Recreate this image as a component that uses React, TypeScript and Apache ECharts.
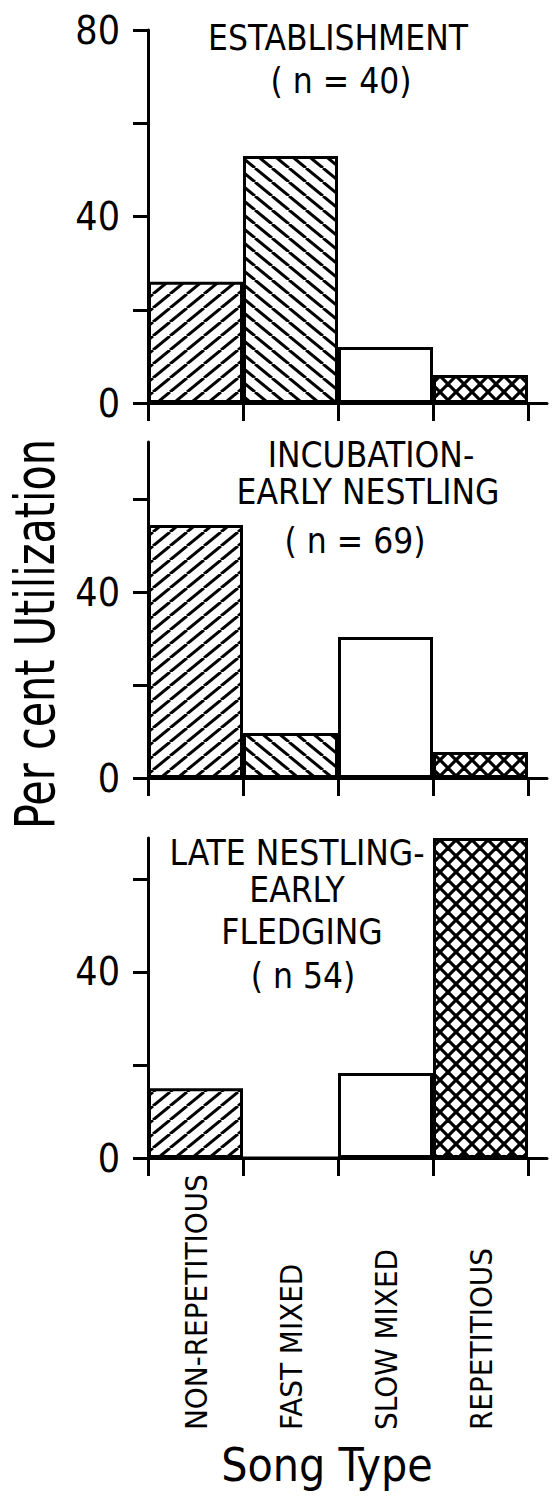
import React, { useEffect, useRef } from "react";
import * as echarts from "echarts";

// ---- data ----
const categories = ["NON-REPETITIOUS", "FAST MIXED", "SLOW MIXED", "REPETITIOUS"];
const establishment = [26, 53, 12, 6];
const incubation = [54.5, 9.7, 30.4, 5.6];
const lateNestling = [15, 0, 18.3, 68.8];
const panelValues = [establishment, incubation, lateNestling];
const panelTitles = [
  ["ESTABLISHMENT", "( n = 40)"],
  ["INCUBATION-", "EARLY NESTLING", "( n = 69)"],
  ["LATE NESTLING-", "EARLY", "FLEDGING", "( n 54)"],
];
const yMaxes = [80, 72.4, 68.8];
const yTicks = [[0, 20, 40, 60, 80], [0, 20, 40, 60], [0, 20, 40, 60]];
const yTickLabels = [[0, 40, 80], [0, 40], [0, 40]];
const xTicks = [0, 1, 2, 3, 4];
const xLabelPositions = [0.5, 1.5, 2.5, 3.5];
const yAxisName = "Per cent Utilization";
const xAxisName = "Song Type";

// ---- layout ----
const W = 553;
const H = 1497;
const GRID_LEFT = 148;
const GRID_WIDTH = 399;
const X_MAX = 4.2;
const GRID_TOPS = [30, 442, 838];
const GRID_HEIGHTS = [373, 336, 320];
const TITLE_POS = [
  [[338, 37.5], [341, 81]],
  [[371, 455], [368, 492], [355, 541]],
  [[297, 853], [297, 890], [302, 932], [303, 976]],
];
const FONT = '"DejaVu Sans Condensed", "DejaVu Sans", sans-serif';

function makeTile(w: number, h: number, lw: number, dirs: number[]) {
  const c = document.createElement("canvas");
  c.width = w;
  c.height = h;
  const g = c.getContext("2d")!;
  g.fillStyle = "#fff";
  g.fillRect(0, 0, w, h);
  g.strokeStyle = "#000";
  g.lineWidth = lw;
  for (const dir of dirs) {
    for (const k of [-1, 0, 1]) {
      g.beginPath();
      if (dir > 0) {
        g.moveTo(k * w, h);
        g.lineTo(k * w + w, 0);
      } else {
        g.moveTo(k * w, 0);
        g.lineTo(k * w + w, h);
      }
      g.stroke();
    }
  }
  return { image: c, repeat: "repeat", imageWidth: w, imageHeight: h };
}

export default function App() {
  const ref = useRef<HTMLDivElement>(null);
  useEffect(() => {
    document.body.style.margin = "0";
    const chart = echarts.init(ref.current!, undefined, { renderer: "svg", width: W, height: H });
    const fwd = makeTile(17, 14, 3, [1]);
    const back = makeTile(17, 14, 3, [-1]);
    const cross = makeTile(16, 16, 3.2, [1, -1]);
    const fills: any[] = [fwd, back, "#fff", cross];
    const unitPx = GRID_WIDTH / X_MAX;

    const grids = GRID_TOPS.map((t, i) => ({
      left: GRID_LEFT,
      top: t,
      width: GRID_WIDTH,
      height: GRID_HEIGHTS[i],
      containLabel: false,
    }));

    const xAxes = GRID_TOPS.map((_, i) => ({
      type: "value",
      gridIndex: i,
      min: 0,
      max: X_MAX,
      interval: 1,
      axisLine: { show: true, onZero: false, lineStyle: { color: "#000", width: 3 } },
      axisTick: { show: true, customValues: xTicks, length: 18, lineStyle: { color: "#000", width: 3 } },
      splitLine: { show: false },
      axisLabel:
        i === 2
          ? {
              show: true,
              customValues: xLabelPositions,
              formatter: (v: number) => categories[Math.floor(v)] ?? "",
              rotate: 90,
              align: "left",
              verticalAlign: "middle",
              margin: 272,
              fontFamily: FONT,
              fontSize: 31,
              color: "#000",
            }
          : { show: false },
    }));

    const yAxes = GRID_TOPS.map((_, i) => ({
      type: "value",
      gridIndex: i,
      min: 0,
      max: yMaxes[i],
      interval: 20,
      axisLine: { show: true, lineStyle: { color: "#000", width: 3 } },
      axisTick: { show: true, customValues: yTicks[i], length: 15, lineStyle: { color: "#000", width: 3 } },
      splitLine: { show: false },
      axisLabel: {
        show: true,
        customValues: yTickLabels[i],
        margin: 28,
        fontFamily: FONT,
        fontSize: 39,
        color: "#000",
      },
    }));

    const series = panelValues.map((vals, i) => ({
      type: "bar",
      xAxisIndex: i,
      yAxisIndex: i,
      barWidth: unitPx,
      silent: true,
      itemStyle: { borderColor: "#000", borderWidth: 3 },
      data: vals.map((v, j) => ({
        value: [xLabelPositions[j], v],
        itemStyle: { color: fills[j] },
      })),
    }));

    const titleTexts: any[] = [];
    panelTitles.forEach((lines, i) =>
      lines.forEach((line, k) =>
        titleTexts.push({
          type: "text",
          x: TITLE_POS[i][k][0],
          y: TITLE_POS[i][k][1],
          style: {
            text: line,
            fontFamily: FONT,
            fontSize: 35,
            fill: "#000",
            align: "center",
            verticalAlign: "middle",
          },
        })
      )
    );

    chart.setOption({
      animation: false,
      backgroundColor: "#fff",
      grid: grids,
      xAxis: xAxes,
      yAxis: yAxes,
      series,
      graphic: [
        ...titleTexts,
        {
          type: "text",
          x: 35,
          y: 634,
          rotation: Math.PI / 2,
          scaleY: 1.2,
          style: {
            text: yAxisName,
            fontFamily: FONT,
            fontSize: 46,
            fill: "#000",
            align: "center",
            verticalAlign: "middle",
          },
        },
        {
          type: "text",
          x: 327,
          y: 1465,
          style: {
            text: xAxisName,
            fontFamily: FONT,
            fontSize: 46,
            fill: "#000",
            align: "center",
            verticalAlign: "middle",
          },
        },
      ],
    });
    return () => chart.dispose();
  }, []);
  return <div ref={ref} style={{ width: W, height: H }} />;
}
